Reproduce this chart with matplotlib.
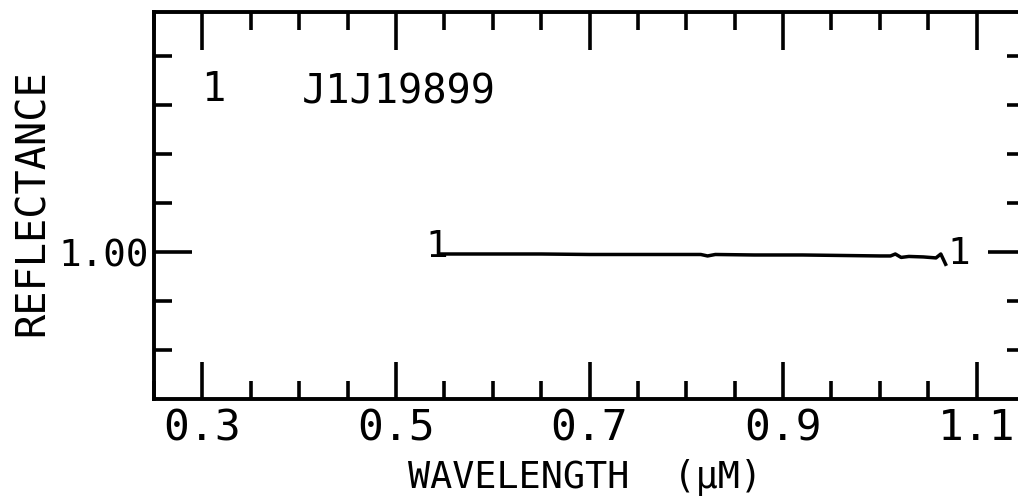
import matplotlib
matplotlib.use("Agg")
import matplotlib.pyplot as plt
from matplotlib.ticker import MultipleLocator, FixedLocator, NullFormatter

plt.rcParams['font.family'] = ['DejaVu Sans Mono', 'DejaVu Sans']

# Spectrum of sample J1J19899 (wavelength in micrometres, relative reflectance)
wavelength = [0.546, 0.60, 0.65, 0.70, 0.75, 0.80, 0.815, 0.822, 0.83, 0.87,
              0.92, 0.96, 1.00, 1.011, 1.016, 1.022, 1.03, 1.045, 1.058,
              1.063, 1.068]
reflectance = [0.996, 0.996, 0.996, 0.995, 0.995, 0.995, 0.995, 0.992, 0.995,
               0.994, 0.994, 0.993, 0.992, 0.992, 0.996, 0.989, 0.991, 0.990,
               0.988, 0.996, 0.975]

sample_id = "J1J19899"
curve_tag = "1"
xtick_major = [0.3, 0.5, 0.7, 0.9, 1.1]
xtick_labels = ["0.3", "0.5", "0.7", "0.9", "1.1"]
ytick_major = [1.00]
ytick_labels = ["1.00"]
ytick_minor = [0.8, 0.9, 1.1, 1.2, 1.3, 1.4]

fig = plt.figure(figsize=(10.18, 5.0), dpi=100)
ax = fig.add_axes([154 / 1018, 1 - 399 / 500, 871 / 1018, 387 / 500])

ax.plot(wavelength, reflectance, color='black', lw=2.5, solid_joinstyle='round')

ax.set_xlim(0.25, 1.15)
ax.set_ylim(0.70, 1.49)

ax.xaxis.set_major_locator(FixedLocator(xtick_major))
ax.set_xticklabels(xtick_labels)
ax.xaxis.set_minor_locator(MultipleLocator(0.05))
ax.yaxis.set_major_locator(FixedLocator(ytick_major))
ax.set_yticklabels(ytick_labels)
ax.yaxis.set_minor_locator(FixedLocator(ytick_minor))
ax.yaxis.set_minor_formatter(NullFormatter())

ax.tick_params(which='both', direction='in', top=True, right=True,
               width=2.6, color='black')
ax.tick_params(which='major', length=27)
ax.tick_params(which='minor', length=13)
ax.tick_params(axis='x', which='major', labelsize=31, pad=6)
ax.tick_params(axis='y', which='major', labelsize=27, pad=4)

for sp in ax.spines.values():
    sp.set_linewidth(2.8)
    sp.set_color('black')

ax.set_xlabel("WAVELENGTH  (\u00b5M)", fontsize=26.5)
ax.xaxis.set_label_coords(0.495, -0.155)
ax.set_ylabel("REFLECTANCE", fontsize=29)
ax.yaxis.set_label_coords(-0.116, 0.508)

# Curve identifiers at both ends of the spectrum
ax.text(wavelength[0] - 0.004, reflectance[0] - 0.006, curve_tag,
        fontsize=27, ha='center', va='baseline')
ax.text(wavelength[-1] + 0.002, reflectance[-1], curve_tag,
        fontsize=27, ha='left', va='baseline')

# Heading inside the frame
ax.text(0.311, 1.33, curve_tag, fontsize=29, ha='center', va='center')
ax.text(0.403, 1.325, sample_id, fontsize=29, ha='left', va='center')

fig.savefig("out.png", dpi=100)
